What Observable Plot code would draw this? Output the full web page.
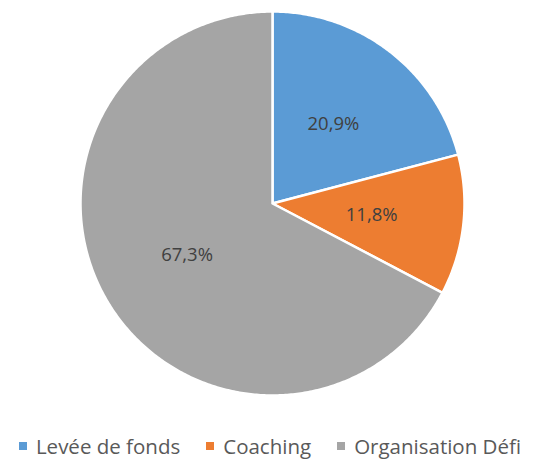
<!DOCTYPE html>
<html><head><meta charset="utf-8">
<script src="https://cdn.jsdelivr.net/npm/d3@7"></script>
<script src="https://cdn.jsdelivr.net/npm/@observablehq/plot@0.6"></script>
<style>
body{margin:0;background:#fff;font-family:"Open Sans",sans-serif;}
#legend{display:flex;justify-content:center;align-items:center;height:26px;margin-top:9px;font-size:20.5px;color:#595959;white-space:nowrap;}
#legend .it{display:flex;align-items:center;margin:0 13px;}
#legend .sw{width:8px;height:8px;margin-right:9px;}
</style></head>
<body><div id="chart"></div>
<script>
const categories = ["Levée de fonds", "Coaching", "Organisation Défi"];
const values = [20.9, 11.8, 67.3];
const colors = ["#5B9BD5", "#ED7D31", "#A5A5A5"];
const labels = ["20,9%", "11,8%", "67,3%"];

const W = 540, H = 424, cx = 272, cy = 203, R = 192;
const total = d3.sum(values);
let acc = 0;
const slices = values.map((v, i) => {
  const a0 = acc / total * 2 * Math.PI;
  acc += v;
  const a1 = acc / total * 2 * Math.PI;
  return {cat: categories[i], a0, a1, label: labels[i]};
});
const poly = [];
slices.forEach(s => {
  poly.push({cat: s.cat, x: 0, y: 0});
  const n = Math.max(4, Math.ceil((s.a1 - s.a0) / 0.01));
  for (let k = 0; k <= n; k++) {
    const a = s.a0 + (s.a1 - s.a0) * k / n;
    poly.push({cat: s.cat, x: Math.sin(a), y: Math.cos(a)});
  }
  poly.push({cat: s.cat, x: 0, y: 0});
});
const lab = slices.map(s => {
  const m = (s.a0 + s.a1) / 2;
  return {label: s.label, x: 0.52 * Math.sin(m), y: 0.52 * Math.cos(m)};
});

const plot = Plot.plot({
  width: W, height: H, margin: 0,
  x: {domain: [-cx / R, (W - cx) / R], range: [0, W], axis: null},
  y: {domain: [-(H - cy) / R, cy / R], range: [H, 0], axis: null},
  color: {domain: categories, range: colors},
  style: {background: "white"},
  marks: [
    Plot.line(poly, {x: "x", y: "y", z: "cat", fill: "cat", stroke: "white", strokeWidth: 2.5, strokeLinejoin: "round", curve: "linear"}),
    Plot.text(lab, {x: "x", y: "y", text: "label", fill: "#404040", fontSize: 18.5, fontFamily: "Open Sans"})
  ]
});
document.getElementById("chart").appendChild(plot);

const leg = document.createElement("div");
leg.id = "legend";
categories.forEach((c, i) => {
  const it = document.createElement("div"); it.className = "it";
  const sw = document.createElement("div"); sw.className = "sw"; sw.style.background = colors[i];
  const t = document.createElement("span"); t.textContent = c;
  it.appendChild(sw); it.appendChild(t); leg.appendChild(it);
});
document.body.appendChild(leg);
</script></body></html>
